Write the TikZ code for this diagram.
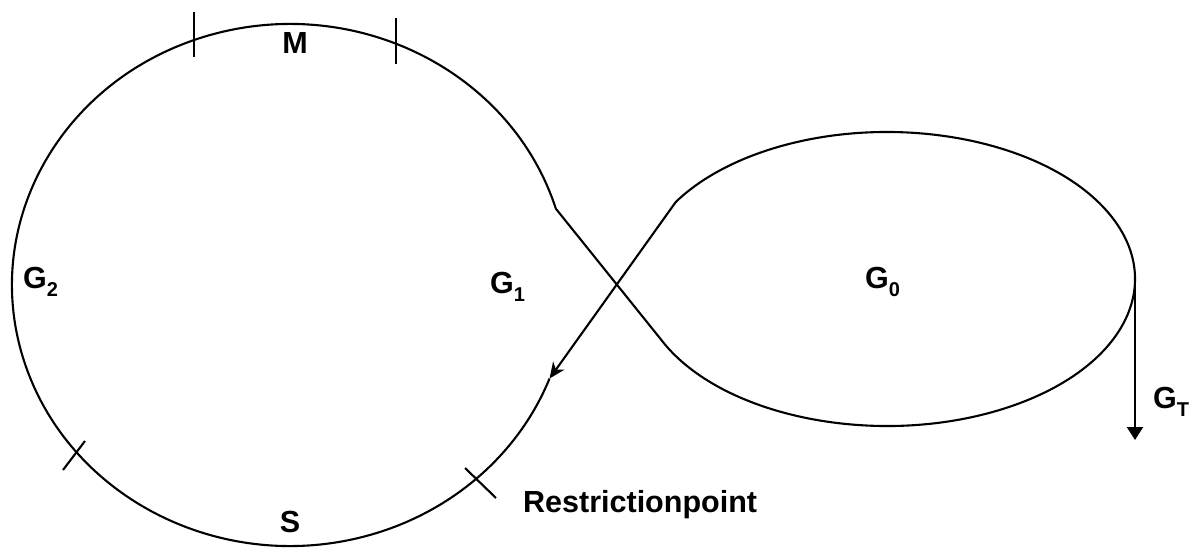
\documentclass[tikz,border=0pt]{standalone}
\usepackage{fontspec}
\setmainfont{Liberation Sans}
\usetikzlibrary{arrows.meta}
\newcommand\sublab[2]{#1\raisebox{-8pt}{\fontsize{20}{20}\selectfont #2}}
\begin{document}
\begin{tikzpicture}[x=1pt,y=1pt,
  curve/.style={line width=2.1pt,line join=round},
  tick/.style={line width=2.1pt},
  lab/.style={inner sep=0pt,font=\fontsize{30.5}{30.5}\selectfont\bfseries}]
\useasboundingbox (0,0) rectangle (1195,-549);

% left loop, open on its right side
\draw[curve] (555.85,-208.69)
  arc[start angle=17,end angle=339,x radius=278,y radius=261];

% crossing strands and the right loop, returning into the left loop
\draw[curve,-{Stealth[length=16pt,width=14pt,inset=5pt]}]
  (555.85,-208.69) -- (665.44,-345.05)
  arc[start angle=206.7,end angle=508.4,x radius=248,y radius=147]
  -- (549.54,-378.53);

% exit arrow
\coordinate (exitA) at (1135,-279);
\coordinate (exitB) at (1135,-440);
\draw[curve,-{Triangle[length=13pt,width=16pt]}] (exitA) -- (exitB);

% tick marks on the left loop
\draw[tick] (194,-12) -- (194,-57);
\draw[tick] (396,-18) -- (396,-64);
\draw[tick] (63,-470) -- (85,-441);
\draw[tick] (465,-468) -- (496,-498);

% labels
\node[lab] (m) at (295,-43) {M};
\node[lab] (s) at (290,-522) {S};
\node[lab,anchor=base west] (rp) at (523,-512) {Restrictionpoint};
\node[lab,anchor=base west] (g2) at (23,-288) {\sublab{G}{2}};
\node[lab,anchor=base west] (g1) at (490,-293) {\sublab{G}{1}};
\node[lab,anchor=base west] (g0) at (865,-288) {\sublab{G}{0}};
\node[lab,anchor=base west] (gt) at (1153,-408) {\sublab{G}{T}};
\end{tikzpicture}
\end{document}
